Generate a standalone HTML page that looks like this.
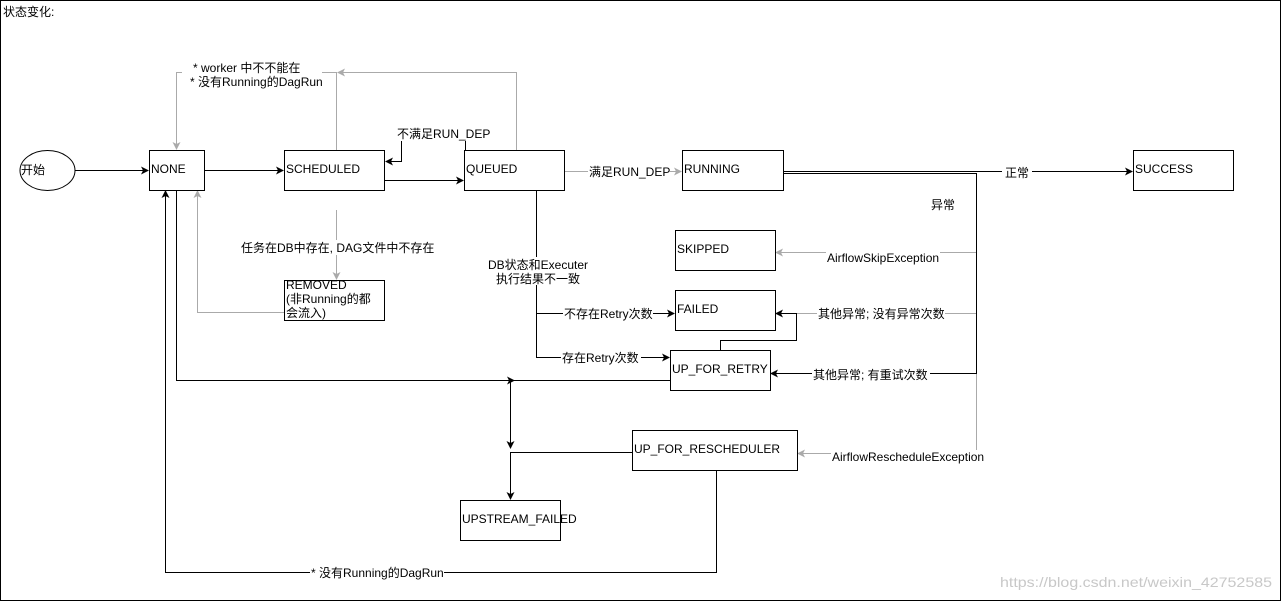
<!DOCTYPE html>
<html><head><meta charset="utf-8"><style>
html,body{margin:0;padding:0;background:#fff}
svg{display:block}
text{font-family:"Liberation Sans","Noto Sans CJK SC",sans-serif;font-size:12px;fill:#000}
</style></head><body>
<svg width="1281" height="601" viewBox="0 0 1281 601" xmlns="http://www.w3.org/2000/svg">
<defs>
<marker id="ab" markerWidth="8" markerHeight="8" refX="7" refY="4" orient="auto" markerUnits="userSpaceOnUse"><path d="M0,0 L8,4 L0,8 L2,4 z" fill="#000"/></marker>
<marker id="ag" markerWidth="8" markerHeight="8" refX="7" refY="4" orient="auto" markerUnits="userSpaceOnUse"><path d="M0,0 L8,4 L0,8 L2,4 z" fill="#aaa"/></marker>
</defs>
<rect x="0.5" y="0.5" width="1280" height="600" fill="#fff" stroke="#000"/>
<text x="3" y="16">状态变化:</text>

<g fill="none" stroke="#aaa" stroke-width="1">
<path d="M336.5,150 V72.5 H176.5 V149" marker-end="url(#ag)"/>
<path d="M516.5,150 V72.5 H338" marker-end="url(#ag)"/>
<path d="M564,171.5 H681" marker-end="url(#ag)"/>
<path d="M336.5,210 V279" marker-end="url(#ag)"/>
<path d="M284,312.5 H197.5 V191" marker-end="url(#ag)"/>
<path d="M976.5,252.5 H776" marker-end="url(#ag)"/>
<path d="M976.5,313.5 H790"/>
<path d="M976.5,373 V453.5 H798" marker-end="url(#ag)"/>
</g>
<g fill="none" stroke="#000" stroke-width="1">
<path d="M75,170.5 H148" marker-end="url(#ab)"/>
<path d="M204,170.5 H283" marker-end="url(#ab)"/>
<path d="M384,180.5 H463" marker-end="url(#ab)"/>
<path d="M465.5,150 V140.5 H401.5 V161.5 H386" marker-end="url(#ab)"/>
<path d="M783,171.5 H1132" marker-end="url(#ab)"/>
<path d="M783,173.5 H976.5 V373.5 H771" marker-end="url(#ab)"/>
<path d="M790,313.5 H776" marker-end="url(#ab)"/>
<path d="M720.5,350 V340.5 H796.5 V313.5 H790"/>
<path d="M536.5,190 V357.5 H669" marker-end="url(#ab)"/>
<path d="M536.5,313.5 H674" marker-end="url(#ab)"/>
<path d="M176.5,190 V380.5 H670"/>
<path d="M480,380.5 H514" marker-end="url(#ab)"/>
<path d="M510.5,380 V448" marker-end="url(#ab)"/>
<path d="M632,452.5 H510.5 V499" marker-end="url(#ab)"/>
<path d="M716.5,470 V572.5 H165.5 V191" marker-end="url(#ab)"/>
</g>

<ellipse cx="47.5" cy="170.5" rx="27.5" ry="20" fill="#fff" stroke="#000"/>
<text x="21" y="174">开始</text>

<g fill="#fff" stroke="#000">
<rect x="149.5" y="150.5" width="55" height="40"/>
<rect x="284.5" y="150.5" width="100" height="40"/>
<rect x="464.5" y="150.5" width="100" height="40"/>
<rect x="682.5" y="150.5" width="101" height="40"/>
<rect x="1133.5" y="150.5" width="100" height="40"/>
<rect x="675.5" y="230.5" width="100" height="40"/>
<rect x="675.5" y="290.5" width="100" height="40"/>
<rect x="670.5" y="350.5" width="100" height="40"/>
<rect x="632.5" y="430.5" width="165" height="40"/>
<rect x="460.5" y="500.5" width="100" height="40"/>
<rect x="284.5" y="280.5" width="100" height="40"/>
</g>
<text x="151" y="173">NONE</text>
<text x="286" y="173">SCHEDULED</text>
<text x="466" y="173">QUEUED</text>
<text x="684" y="173">RUNNING</text>
<text x="1135" y="173">SUCCESS</text>
<text x="677" y="253">SKIPPED</text>
<text x="677" y="313">FAILED</text>
<text x="672" y="373">UP_FOR_RETRY</text>
<text x="634" y="453">UP_FOR_RESCHEDULER</text>
<text x="462" y="523">UPSTREAM_FAILED</text>
<text x="286" y="289">REMOVED</text>
<text x="286" y="303">(非Running的都</text>
<text x="286" y="317">会流入)</text>

<g>
<rect x="182" y="60" width="140" height="30" fill="#fff"/>
<text x="193" y="72">*  worker 中不不能在</text>
<text x="190" y="86">* 没有Running的DagRun</text>
<rect x="396" y="127" width="96" height="14" fill="#fff"/>
<text x="397" y="138">不满足RUN_DEP</text>
<rect x="588" y="164" width="82" height="14" fill="#fff"/>
<text x="589" y="176">满足RUN_DEP</text>
<rect x="1002" y="165" width="30" height="14" fill="#fff"/>
<text x="1005" y="177">正常</text>
<text x="931" y="209">异常</text>
<rect x="240" y="240" width="196" height="15" fill="#fff"/>
<text x="241" y="252">任务在DB中存在, DAG文件中不存在</text>
<rect x="486" y="257" width="104" height="28" fill="#fff"/>
<text x="538" y="269" text-anchor="middle">DB状态和Executer</text>
<text x="538" y="283" text-anchor="middle">执行结果不一致</text>
<rect x="563" y="307" width="90" height="14" fill="#fff"/>
<text x="564" y="318">不存在Retry次数</text>
<rect x="561" y="351" width="80" height="14" fill="#fff"/>
<text x="562" y="362">存在Retry次数</text>
<rect x="826" y="251" width="114" height="14" fill="#fff"/>
<text x="827" y="262">AirflowSkipException</text>
<rect x="817" y="307" width="128" height="14" fill="#fff"/>
<text x="818" y="318">其他异常; 没有异常次数</text>
<rect x="812" y="367" width="118" height="14" fill="#fff"/>
<text x="813" y="379">其他异常; 有重试次数</text>
<rect x="831" y="450" width="154" height="14" fill="#fff"/>
<text x="832" y="461">AirflowRescheduleException</text>
<rect x="310" y="566" width="134" height="14" fill="#fff"/>
<text x="311" y="577">* 没有Running的DagRun</text>
</g>
<text x="1000" y="587" textLength="272" lengthAdjust="spacingAndGlyphs" style="fill:#c8c8c8;font-size:14px">https://blog.csdn.net/weixin_42752585</text>
</svg>
</body></html>
